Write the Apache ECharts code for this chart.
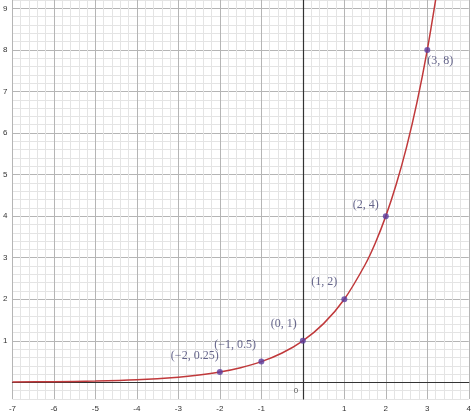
<!DOCTYPE html>
<html>
<head>
<meta charset="utf-8">
<script src="https://cdn.jsdelivr.net/npm/echarts@6/dist/echarts.min.js"></script>
<style>html,body{margin:0;padding:0;background:#fff}#chart{width:474px;height:413px}</style>
</head>
<body>
<div id="chart"></div>
<script>
// curve y = 2^x
var curveX = [-7, -6, -5, -4, -3, -2.5, -2, -1.5, -1, -0.5, 0, 0.5, 1, 1.5, 1.75, 2, 2.25, 2.5, 2.75, 3, 3.25];
var curveY = [0.008, 0.016, 0.031, 0.063, 0.125, 0.177, 0.25, 0.354, 0.5, 0.707, 1, 1.414, 2, 2.83, 3.36, 4, 4.76, 5.66, 6.73, 8, 9.51];
// marked points
var pointX = [-2, -1, 0, 1, 2, 3];
var pointY = [0.25, 0.5, 1, 2, 4, 8];
var pointLabels = ['(\u22122, 0.25)', '(\u22121, 0.5)', '(0, 1)', '(1, 2)', '(2, 4)', '(3, 8)'];
var labelPos = [[-46, -19], [-44, -20], [-29, -20], [-30, -20], [-30, -14], [3, 8]];

var myChart = echarts.init(document.getElementById('chart'));

var curve = [];
for (var i = 0; i < curveX.length; i++) curve.push([curveX[i], curveY[i]]);
var pts = [];
for (var j = 0; j < pointX.length; j++) {
	pts.push({
		value: [pointX[j], pointY[j]],
		label: {show: true, formatter: pointLabels[j], position: labelPos[j]}
	});
}

var MAJ = '#b5b5b5', MIN = '#e4e4e4';
function intLabel(v) {
	var r = Math.round(v);
	if (Math.abs(v - r) > 1e-6) return '';
	return r;
}

var option = {
	animation: false,
	backgroundColor: '#fff',
	grid: {left: 0, right: 0, top: 0, bottom: 0},
	xAxis: {
		type: 'value', min: -7, max: 4, interval: 0.2,
		axisLine: {onZero: true, lineStyle: {color: '#333', width: 1.2}},
		axisTick: {show: false},
		splitLine: {show: true, lineStyle: {color: [MAJ, MIN, MIN, MIN, MIN], width: 1}},
		axisLabel: {color: '#333', fontSize: 8, margin: 6, showMinLabel: true,
			formatter: function (v) { var r = intLabel(v); return r === 0 ? '' : r; }}
	},
	yAxis: {
		type: 'value', min: -0.4, max: 9.2, interval: 0.2,
		axisLine: {onZero: true, lineStyle: {color: '#333', width: 1.2}},
		axisTick: {show: false},
		splitLine: {show: true, lineStyle: {color: [MIN, MIN, MAJ, MIN, MIN], width: 1}},
		axisLabel: {color: '#333', fontSize: 8, margin: 5,
			formatter: function (v) { var r = intLabel(v); return (r === '' || r <= 0) ? '' : r; }}
	},
	series: [{
		type: 'line',
		data: curve,
		smooth: 0.3,
		showSymbol: false,
		lineStyle: {color: '#c0393b', width: 1.5},
		z: 3
	}, {
		type: 'scatter',
		data: pts,
		symbolSize: 6,
		itemStyle: {color: '#5b3c9e'},
		label: {color: '#3e3e6e', fontSize: 12, fontFamily: 'Liberation Serif'},
		z: 4
	}, {
		type: 'scatter',
		data: [[0, 0]],
		symbolSize: 0,
		label: {show: true, formatter: '0', position: [-9, 4], color: '#333', fontSize: 8}
	}]
};
myChart.setOption(option);
</script>
</body>
</html>
